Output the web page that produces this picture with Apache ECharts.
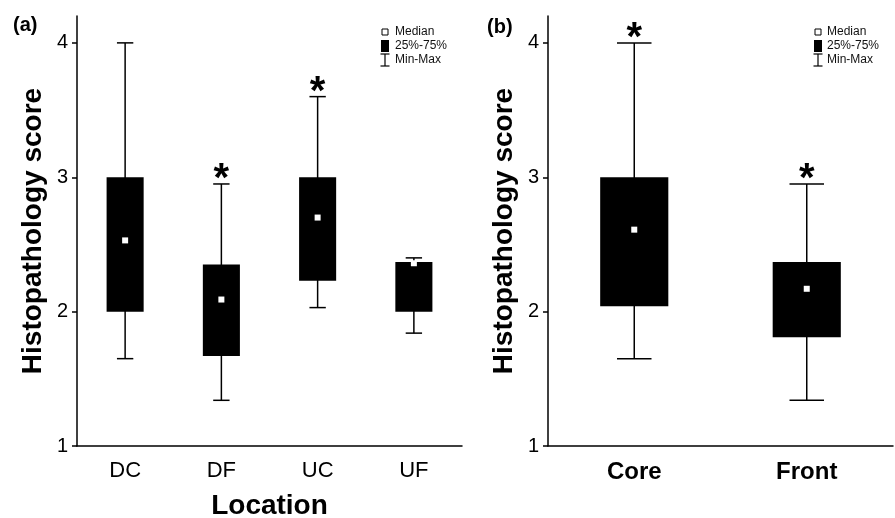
<!DOCTYPE html>
<html>
<head>
<meta charset="utf-8">
<title>Histopathology score</title>
<script src="https://cdn.jsdelivr.net/npm/echarts@6/dist/echarts.min.js"></script>
<style>
  html, body { margin: 0; padding: 0; background: #fff; }
  #chart { width: 895px; height: 518px; }
</style>
</head>
<body>
<div id="chart"></div>
<script>
// panel (a): by location
const locations = ['DC', 'DF', 'UC', 'UF']
const minA = [1.65, 1.34, 2.03, 1.84]
const q1A = [2.0, 1.67, 2.23, 2.0]
const medianA = [2.53, 2.09, 2.70, 2.36]
const q3A = [3.0, 2.35, 3.0, 2.37]
const maxA = [4.0, 2.95, 3.6, 2.40]
const starA = [0, 1, 1, 0]

// panel (b): core vs front
const zones = ['Core', 'Front']
const minB = [1.65, 1.34]
const q1B = [2.04, 1.81]
const medianB = [2.61, 2.17]
const q3B = [3.0, 2.37]
const maxB = [4.0, 2.95]
const starB = [1, 1]

const yTicks = [1, 2, 3, 4]
const legendItems = ['Median', '25%-75%', 'Min-Max']

const FONT = 'Liberation Sans, Arial, sans-serif'

const rows = (cats, mn, q1, md, q3, mx, st) =>
  cats.map((c, i) => [i, mn[i], q1[i], md[i], q3[i], mx[i], st[i]])

const makeRender = (boxRatio, capRatio) => (params, api) => {
  const x = api.value(0)
  const lo = api.coord([x, api.value(1)])
  const q1 = api.coord([x, api.value(2)])
  const md = api.coord([x, api.value(3)])
  const q3 = api.coord([x, api.value(4)])
  const hi = api.coord([x, api.value(5)])
  const band = api.size([1, 0])[0]
  const bw = band * boxRatio
  const cw = band * capRatio
  const cx = lo[0]
  const line = { stroke: '#000', lineWidth: 1.5 }
  const children = [
    { type: 'line', shape: { x1: cx, y1: hi[1], x2: cx, y2: lo[1] }, style: line },
    { type: 'line', shape: { x1: cx - cw / 2, y1: hi[1], x2: cx + cw / 2, y2: hi[1] }, style: line },
    { type: 'line', shape: { x1: cx - cw / 2, y1: lo[1], x2: cx + cw / 2, y2: lo[1] }, style: line },
    { type: 'rect', shape: { x: cx - bw / 2, y: q3[1], width: bw, height: q1[1] - q3[1] }, style: { fill: '#000' } },
    { type: 'rect', shape: { x: cx - 3, y: md[1] - 3, width: 6, height: 6 }, style: { fill: '#fff' } }
  ]
  if (api.value(6)) {
    children.push({
      type: 'text',
      style: {
        text: '*', x: cx, y: hi[1] + 16, align: 'center', verticalAlign: 'bottom',
        font: 'bold 40px ' + FONT, fill: '#000'
      }
    })
  }
  return { type: 'group', children }
}

const yAxisBase = (gridIndex) => ({
  type: 'value',
  gridIndex,
  min: 1,
  max: 4.2,
  name: 'Histopathology score',
  nameLocation: 'middle',
  nameGap: 30,
  nameTextStyle: { fontFamily: FONT, fontWeight: 'bold', fontSize: 28, color: '#000' },
  axisLine: { show: true, lineStyle: { color: '#000', width: 1.5 } },
  axisTick: { show: true, length: 5, customValues: yTicks, lineStyle: { color: '#000', width: 1.5 } },
  axisLabel: { customValues: yTicks, margin: 9, fontFamily: FONT, fontSize: 20, color: '#000' },
  splitLine: { show: false }
})

const legendGraphic = (mx, tx) => {
  const t = (text, y) => ({
    type: 'text',
    style: { text, x: tx, y, verticalAlign: 'middle', font: '12px ' + FONT, fill: '#111' }
  })
  const ls = { stroke: '#000', lineWidth: 1.2 }
  return [
    { type: 'rect', shape: { x: mx - 3, y: 29, width: 6, height: 6 }, style: { fill: '#fff', stroke: '#000', lineWidth: 1 } },
    { type: 'rect', shape: { x: mx - 4, y: 40, width: 8, height: 12 }, style: { fill: '#000' } },
    { type: 'line', shape: { x1: mx, y1: 54, x2: mx, y2: 66 }, style: ls },
    { type: 'line', shape: { x1: mx - 4.5, y1: 54, x2: mx + 4.5, y2: 54 }, style: ls },
    { type: 'line', shape: { x1: mx - 4.5, y1: 66, x2: mx + 4.5, y2: 66 }, style: ls },
    t(legendItems[0], 32),
    t(legendItems[1], 46),
    t(legendItems[2], 60)
  ]
}

const chart = echarts.init(document.getElementById('chart'))

const option = {
  backgroundColor: '#fff',
  animation: false,
  grid: [
    { left: 77, right: 433, top: 16, bottom: 72, outerBoundsMode: 'none' },
    { left: 548, right: 2, top: 16, bottom: 72, outerBoundsMode: 'none' }
  ],
  xAxis: [
    {
      type: 'category',
      gridIndex: 0,
      data: locations,
      name: 'Location',
      nameLocation: 'middle',
      nameGap: 46,
      nameTextStyle: { fontFamily: FONT, fontWeight: 'bold', fontSize: 28, color: '#000' },
      axisLine: { lineStyle: { color: '#000', width: 1.5 } },
      axisTick: { alignWithLabel: true, length: 5, lineStyle: { color: '#000', width: 1.5 } },
      axisLabel: { margin: 14, fontFamily: FONT, fontSize: 22, color: '#000' }
    },
    {
      type: 'category',
      gridIndex: 1,
      data: zones,
      axisLine: { lineStyle: { color: '#000', width: 1.5 } },
      axisTick: { alignWithLabel: true, length: 5, lineStyle: { color: '#000', width: 1.5 } },
      axisLabel: { margin: 14, fontFamily: FONT, fontSize: 24, fontWeight: 'bold', color: '#000' }
    }
  ],
  yAxis: [yAxisBase(0), yAxisBase(1)],
  series: [
    {
      type: 'custom',
      xAxisIndex: 0,
      yAxisIndex: 0,
      renderItem: makeRender(0.385, 0.17),
      encode: { x: 0, y: [1, 2, 3, 4, 5] },
      data: rows(locations, minA, q1A, medianA, q3A, maxA, starA)
    },
    {
      type: 'custom',
      xAxisIndex: 1,
      yAxisIndex: 1,
      renderItem: makeRender(0.395, 0.2),
      encode: { x: 0, y: [1, 2, 3, 4, 5] },
      data: rows(zones, minB, q1B, medianB, q3B, maxB, starB)
    }
  ],
  graphic: [
    { type: 'text', left: 13, top: 15, style: { text: '(a)', font: 'bold 20px ' + FONT, fill: '#000' } },
    { type: 'text', left: 487, top: 17, style: { text: '(b)', font: 'bold 20px ' + FONT, fill: '#000' } },
    ...legendGraphic(385, 395),
    ...legendGraphic(818, 827)
  ]
}

chart.setOption(option)
window.addEventListener('resize', () => chart.resize())
</script>
</body>
</html>
